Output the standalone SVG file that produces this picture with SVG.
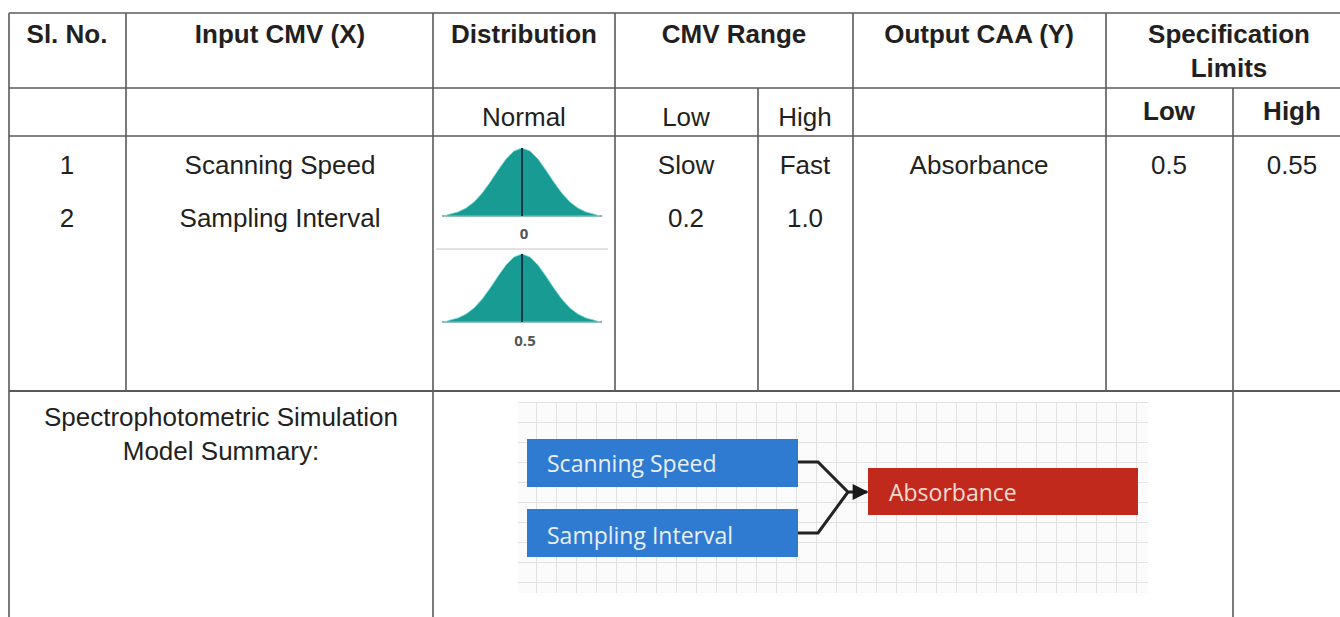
<svg xmlns="http://www.w3.org/2000/svg" width="1340" height="617" viewBox="0 0 1340 617">
<style>
.g{stroke:#5a5a5a;stroke-width:1.6;fill:none}
.h{font-family:"Liberation Sans",Arial,sans-serif;font-weight:bold;font-size:26px;fill:#231f20;text-anchor:middle}
.t{font-family:"Liberation Sans",Arial,sans-serif;font-size:26px;fill:#231f20;text-anchor:middle}
.lab{font-family:"Open Sans","Noto Sans",sans-serif;font-weight:bold;font-size:15px;fill:#555;text-anchor:middle}
.nt{font-family:"Open Sans","Noto Sans",sans-serif;font-size:23px;fill:#e9eff8}
.bell{fill:#179b93;stroke:#7fe0de;stroke-width:0.8}
.axis{stroke:#9aa;stroke-width:2}
.mid{stroke:#0d3550;stroke-width:2}
.conn{stroke:#222;stroke-width:3;fill:none}
</style>
<defs>
<path id="bellpath" d="M-78 0 L-72 -1.9 L-64 -4.1 L-56 -7.9 L-48 -14 L-40 -22.7 L-32 -33.7 L-24 -45.8 L-16 -57 L-8 -65.1 L0 -68 L8 -65.1 L16 -57 L24 -45.8 L32 -33.7 L40 -22.7 L48 -14 L56 -7.9 L64 -4.1 L72 -1.9 L78 0 Z"/>
<pattern id="grid" patternUnits="userSpaceOnUse" x="516" y="402" width="20" height="20">
<rect width="20" height="20" fill="#fbfbfb"/>
<path d="M0.5 0 V20 M0 0.5 H20" stroke="#e2e2e2" stroke-width="1"/>
</pattern>
<marker id="arrow" viewBox="0 0 10 10" refX="9" refY="5" markerWidth="18" markerHeight="16" orient="auto" markerUnits="userSpaceOnUse">
<path d="M0 0 L10 5 L0 10 Z" fill="#1a1a1a"/>
</marker>
</defs>
<rect width="1340" height="617" fill="#ffffff"/>

<g id="table-grid" class="g">
<line x1="9" y1="13" x2="1340" y2="13"/>
<line x1="9" y1="88" x2="1340" y2="88"/>
<line x1="9" y1="136" x2="1340" y2="136"/>
<line x1="9" y1="391" x2="1340" y2="391" stroke-width="2"/>
<line x1="9" y1="13" x2="9" y2="617"/>
<line x1="126" y1="13" x2="126" y2="391"/>
<line x1="433" y1="13" x2="433" y2="617"/>
<line x1="615" y1="13" x2="615" y2="391"/>
<line x1="758" y1="88" x2="758" y2="391"/>
<line x1="853" y1="13" x2="853" y2="391"/>
<line x1="1106" y1="13" x2="1106" y2="391"/>
<line x1="1233" y1="88" x2="1233" y2="617"/>
</g>

<g id="header">
<text class="h" x="67" y="43">Sl. No.</text>
<text class="h" x="280" y="43">Input CMV (X)</text>
<text class="h" x="524" y="43">Distribution</text>
<text class="h" x="734" y="43">CMV Range</text>
<text class="h" x="979" y="43">Output CAA (Y)</text>
<text class="h" x="1229" y="43">Specification</text>
<text class="h" x="1229" y="77">Limits</text>
</g>

<g id="subheader">
<text class="t" x="524" y="126">Normal</text>
<text class="t" x="686" y="126">Low</text>
<text class="t" x="805" y="126">High</text>
<text class="h" x="1169" y="120">Low</text>
<text class="h" x="1292" y="120">High</text>
</g>

<g id="row-1">
<text class="t" x="67" y="174">1</text>
<text class="t" x="280" y="174">Scanning Speed</text>
<text class="t" x="686" y="174">Slow</text>
<text class="t" x="805" y="174">Fast</text>
<text class="t" x="979" y="174">Absorbance</text>
<text class="t" x="1169" y="174">0.5</text>
<text class="t" x="1292" y="174">0.55</text>
</g>

<g id="row-2">
<text class="t" x="67" y="227">2</text>
<text class="t" x="280" y="227">Sampling Interval</text>
<text class="t" x="686" y="227">0.2</text>
<text class="t" x="805" y="227">1.0</text>
</g>

<g id="distribution">
<g transform="translate(522,216)">
<line class="axis" x1="-80" y1="0" x2="80" y2="0"/>
<use href="#bellpath" class="bell"/>
<line class="mid" x1="0" y1="-68" x2="0" y2="0"/>
</g>
<text class="lab" x="524" y="239">0</text>
<line x1="436" y1="249" x2="608" y2="249" stroke="#c8c8c8" stroke-width="1.2"/>
<g transform="translate(522,322)">
<line class="axis" x1="-80" y1="0" x2="80" y2="0"/>
<use href="#bellpath" class="bell"/>
<line class="mid" x1="0" y1="-68" x2="0" y2="0"/>
</g>
<text class="lab" x="525" y="346">0.5</text>
</g>

<g id="summary-label">
<text class="t" x="221" y="426">Spectrophotometric Simulation</text>
<text class="t" x="221" y="460">Model Summary:</text>
</g>

<rect id="model-canvas" x="518" y="402" width="630" height="191" fill="url(#grid)"/>

<g id="connectors">
<path class="conn" d="M798 462 H818 L848 492 H867" marker-end="url(#arrow)"/>
<path class="conn" d="M798 533 H818 L848 492"/>
</g>

<g id="node-scanning-speed">
<rect x="527" y="439" width="271" height="48" fill="#2f7bd1"/>
<text class="nt" x="547" y="472">Scanning Speed</text>
</g>
<g id="node-sampling-interval">
<rect x="527" y="509" width="271" height="48" fill="#2f7bd1"/>
<text class="nt" x="547" y="544">Sampling Interval</text>
</g>
<g id="node-absorbance">
<rect x="868" y="468" width="270" height="47" fill="#c1291d"/>
<text class="nt" x="889" y="501" style="fill:#f7dcd4">Absorbance</text>
</g>
</svg>
